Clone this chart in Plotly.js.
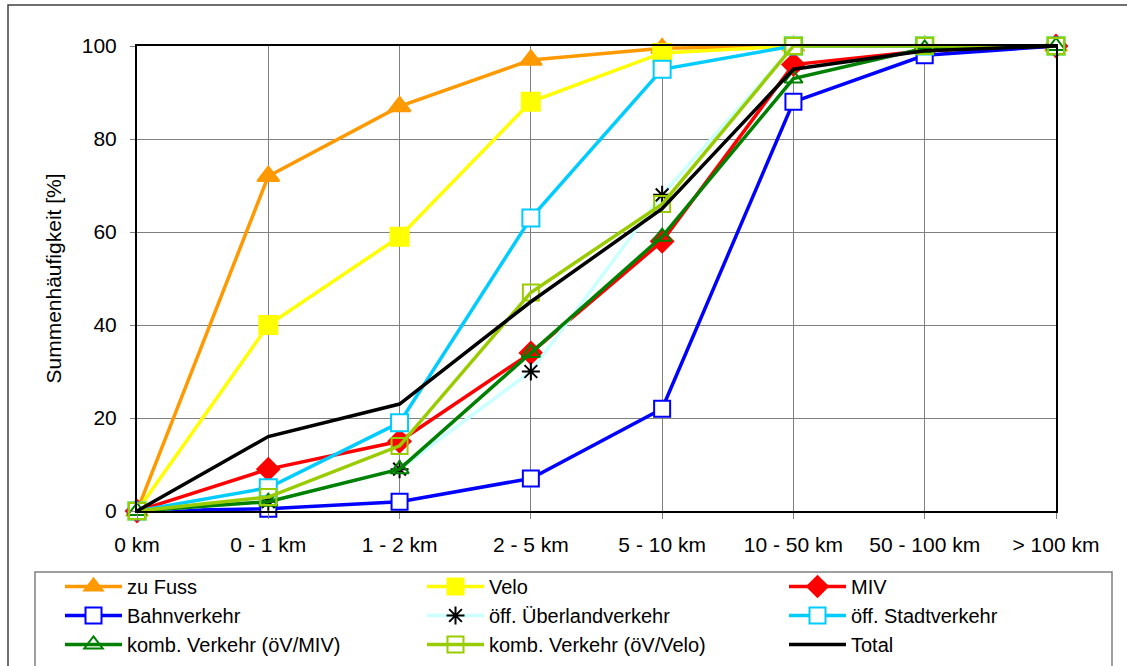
<!DOCTYPE html>
<html>
<head>
<meta charset="utf-8">
<script src="https://cdn.plot.ly/plotly-3.0.1.min.js"></script>
<style>
  html, body { margin: 0; padding: 0; background: #ffffff; }
  #chart { width: 1127px; height: 666px; }
</style>
</head>
<body>
<div id="chart"></div>
<script>
// Categories (distance classes)
const categories = ['0 km', '0 - 1 km', '1 - 2 km', '2 - 5 km', '5 - 10 km', '10 - 50 km', '50 - 100 km', '> 100 km'];

// Cumulative frequency [%] per mode
const zuFuss    = [0, 72, 87, 97, 99.5, 100, 100, 100];
const velo      = [0, 40, 59, 88, 98.5, 100, 100, 100];
const miv       = [0, 9, 15, 34, 58, 96, 99, 100];
const bahn      = [0, 0.5, 2, 7, 22, 88, 98, 100];
const ueberland = [0, 2, 9, 30, 68, 100, 100, 100];
const stadt     = [0, 5, 19, 63, 95, 100, 100, 100];
const kombMiv   = [0, 2, 9, 34, 59, 93, 99.5, 100];
const kombVelo  = [0, 3, 14, 47, 66, 100, 100, 100];
const total     = [0, 16, 23, 45, 65, 95, 99, 100];

const seriesNames = ['zu Fuss', 'Velo', 'MIV', 'Bahnverkehr', 'öff. Überlandverkehr', 'öff. Stadtverkehr', 'komb. Verkehr (öV/MIV)', 'komb. Verkehr (öV/Velo)', 'Total'];

const FONT = 'Liberation Sans, Arial, sans-serif';

function mk(name, y, color, symbol, size, legend, fill, lineColor, lineW) {
  const t = {
    type: 'scatter', mode: symbol ? 'lines+markers' : 'lines',
    name: name, x: categories, y: y, cliponaxis: false,
    line: { color: color, width: 3.5 },
    legend: legend, legendgroup: name,
    hoverinfo: 'name+x+y'
  };
  if (symbol) {
    t.marker = { symbol: symbol, size: size, color: fill || color,
                 line: { color: lineColor || color, width: lineW || 2 } };
  }
  return t;
}

const data = [
  mk(seriesNames[0], zuFuss,    '#FF9900', 'triangle-up', 19, 'legend'),
  mk(seriesNames[1], velo,      '#FFFF00', 'square', 18, 'legend2'),
  mk(seriesNames[2], miv,       '#FF0000', 'diamond', 17, 'legend3'),
  mk(seriesNames[3], bahn,      '#0000FF', 'square', 16, 'legend', '#FFFFFF', '#0000FF', 2),
  mk(seriesNames[4], ueberland, '#CCFFFF', 'asterisk-open', 15, 'legend2', '#000000', '#000000', 2),
  mk(seriesNames[5], stadt,     '#00CCFF', 'square', 17, 'legend3', '#FFFFFF', '#00CCFF', 2),
  mk(seriesNames[6], kombMiv,   '#008000', 'triangle-up-open', 16, 'legend'),
  mk(seriesNames[7], kombVelo,  '#99CC00', 'square-open', 16, 'legend2'),
  mk(seriesNames[8], total,     '#000000', null, 0, 'legend3')
];

// plot area geometry helpers (paper coords)
const L = 137, R = 1056, T = 46, B = 511;
const px = v => (v - L) / (R - L);
const py = v => (B - v) / (B - T);

const legendBase = {
  orientation: 'v', bgcolor: 'rgba(0,0,0,0)', borderwidth: 0,
  font: { family: FONT, size: 20, color: '#000000' },
  itemwidth: 57, tracegroupgap: 0, xanchor: 'left', yanchor: 'top',
  traceorder: 'normal', y: py(567)
};

const layout = {
  width: 1127, height: 666,
  margin: { l: L, r: 1127 - R, t: T, b: 666 - B, pad: 0, autoexpand: false },
  paper_bgcolor: '#ffffff', plot_bgcolor: '#ffffff',
  font: { family: FONT, size: 21, color: '#000000' },
  showlegend: true,
  xaxis: {
    type: 'category', range: [0, 7], autorange: false,
    showgrid: true, gridcolor: '#808080', gridwidth: 1,
    showline: true, linecolor: '#000000', linewidth: 2, mirror: true,
    ticks: 'outside', ticklen: 6, tickcolor: '#808080', tickwidth: 1,
    tickfont: { family: FONT, size: 21 }, ticklabelstandoff: 8,
    zeroline: false, automargin: false, fixedrange: true
  },
  yaxis: {
    range: [0, 100], autorange: false, dtick: 20, tick0: 0,
    showgrid: true, gridcolor: '#808080', gridwidth: 1,
    showline: true, linecolor: '#000000', linewidth: 2, mirror: true,
    ticks: 'outside', ticklen: 5, tickcolor: '#808080', tickwidth: 1,
    tickfont: { family: FONT, size: 21 }, ticklabelstandoff: 9,
    zeroline: false, automargin: false, fixedrange: true,
    title: { text: 'Summenhäufigkeit [%]', font: { family: FONT, size: 21 }, standoff: 14 }
  },
  legend:  Object.assign({}, legendBase, { x: px(60) }),
  legend2: Object.assign({}, legendBase, { x: px(422) }),
  legend3: Object.assign({}, legendBase, { x: px(784) }),
  shapes: [
    { type: 'rect', xref: 'paper', yref: 'paper', x0: px(35), x1: px(1112), y0: py(572), y1: py(669),
      line: { color: '#808080', width: 1.5 }, fillcolor: 'rgba(0,0,0,0)', layer: 'above' },
    { type: 'rect', xref: 'paper', yref: 'paper', x0: px(8), x1: px(1140), y0: py(5), y1: py(680),
      line: { color: '#404040', width: 1.5 }, fillcolor: 'rgba(0,0,0,0)', layer: 'below' }
  ]
};

Plotly.newPlot('chart', data, layout, { displayModeBar: false, staticPlot: true });
</script>
</body>
</html>
